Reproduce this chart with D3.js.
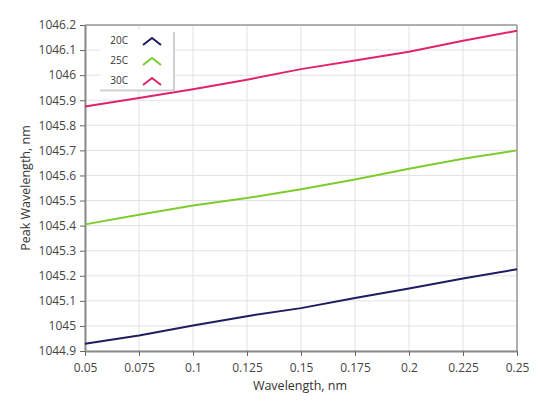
<!DOCTYPE html>
<html><head><meta charset="utf-8">
<script src="https://cdn.jsdelivr.net/npm/d3@7"></script>
<style>
body{margin:0;background:#fff;}
text{font-family:"Open Sans","Noto Sans",sans-serif;}
</style></head>
<body><svg id="c" width="538" height="405"></svg>
<script>
const xValues = [0.05, 0.075, 0.1, 0.125, 0.15, 0.175, 0.2, 0.225, 0.25];
const s20C = [1044.929, 1044.962, 1045.002, 1045.039, 1045.071, 1045.111, 1045.149, 1045.189, 1045.226];
const s25C = [1045.405, 1045.443, 1045.48, 1045.51, 1045.545, 1045.584, 1045.627, 1045.667, 1045.700];
const s30C = [1045.875, 1045.909, 1045.944, 1045.982, 1046.024, 1046.058, 1046.093, 1046.137, 1046.177];
const seriesNames = ["20C", "25C", "30C"];
const seriesColors = ["#1f1d5e", "#7ccc2e", "#e0246c"];
const xTicks = ["0.05","0.075","0.1","0.125","0.15","0.175","0.2","0.225","0.25"];
const yTicks = ["1044.9","1045","1045.1","1045.2","1045.3","1045.4","1045.5","1045.6","1045.7","1045.8","1045.9","1046","1046.1","1046.2"];

const svg = d3.select("#c");
const L = 85, R = 517, T = 25, B = 351;
const x = d3.scaleLinear().domain([0.05, 0.25]).range([L, R]);
const y = d3.scaleLinear().domain([1044.9, 1046.2]).range([B, T]);

// grid
const g = svg.append("g");
g.selectAll(".vx").data(xTicks.map(Number)).enter().append("line")
  .attr("x1", d => x(d)).attr("x2", d => x(d)).attr("y1", T).attr("y2", B)
  .attr("stroke", "#e2e2e2").attr("stroke-width", 1);
g.selectAll(".hy").data(yTicks.map(Number)).enter().append("line")
  .attr("x1", L).attr("x2", R).attr("y1", d => y(d)).attr("y2", d => y(d))
  .attr("stroke", "#e2e2e2").attr("stroke-width", 1);

// frame top/right
svg.append("line").attr("x1", L).attr("x2", R).attr("y1", T).attr("y2", T).attr("stroke", "#9a9a9a").attr("stroke-width", 1.5);
svg.append("line").attr("x1", R).attr("x2", R).attr("y1", T).attr("y2", B).attr("stroke", "#9a9a9a").attr("stroke-width", 1.5);

// axes
const xAxis = d3.axisBottom(x).tickValues(xTicks.map(Number)).tickFormat((d,i) => xTicks[i]).tickSize(5).tickSizeOuter(0);
const yAxis = d3.axisLeft(y).tickValues(yTicks.map(Number)).tickFormat((d,i) => yTicks[i]).tickSize(5).tickSizeOuter(0);
const gx = svg.append("g").attr("transform", `translate(0,${B})`).call(xAxis);
const gy = svg.append("g").attr("transform", `translate(${L},0)`).call(yAxis);
[gx, gy].forEach(a => {
  a.select(".domain").attr("stroke", "#8a8a8a").attr("stroke-width", 2);
  a.selectAll(".tick line").attr("stroke", "#666");
  a.selectAll(".tick text").attr("fill", "#444").style("font-size", "12px");
});
gx.selectAll(".tick text").attr("dy", "1.05em");
gy.selectAll(".tick text").attr("dx", "-1px");

// lines
const data = [s20C, s25C, s30C];
const line = d3.line().x((d,i) => x(xValues[i])).y(d => y(d));
svg.selectAll(".ser").data(data).enter().append("path")
  .attr("d", d => line(d)).attr("fill", "none")
  .attr("stroke", (d,i) => seriesColors[i]).attr("stroke-width", 2);

// legend
const lg = svg.append("g");
lg.append("line").attr("x1", 174).attr("x2", 174).attr("y1", 32).attr("y2", 91).attr("stroke", "#d0d0d0").attr("stroke-width", 2);
lg.append("line").attr("x1", 100).attr("x2", 174).attr("y1", 90.5).attr("y2", 90.5).attr("stroke", "#d0d0d0").attr("stroke-width", 2);
lg.append("rect").attr("x", 100).attr("y", 30).attr("width", 73).attr("height", 59).attr("fill", "#fff");
seriesNames.forEach((n, i) => {
  const cy = 40 + i * 20;
  lg.append("text").attr("x", 128).attr("y", cy + 4).attr("text-anchor", "end")
    .attr("fill", "#333").style("font-size", "10px").text(n);
  lg.append("path").attr("d", `M143,${cy+5} L152,${cy-2} L161,${cy+5}`)
    .attr("fill", "none").attr("stroke", seriesColors[i]).attr("stroke-width", 2);
});

// titles
svg.append("text").attr("x", 300).attr("y", 390).attr("text-anchor", "middle")
  .attr("fill", "#333").style("font-size", "12.5px").text("Wavelength, nm");
svg.append("text").attr("transform", "translate(30,188) rotate(-90)").attr("text-anchor", "middle")
  .attr("fill", "#333").style("font-size", "12.5px").text("Peak Wavelength, nm");
</script></body></html>
